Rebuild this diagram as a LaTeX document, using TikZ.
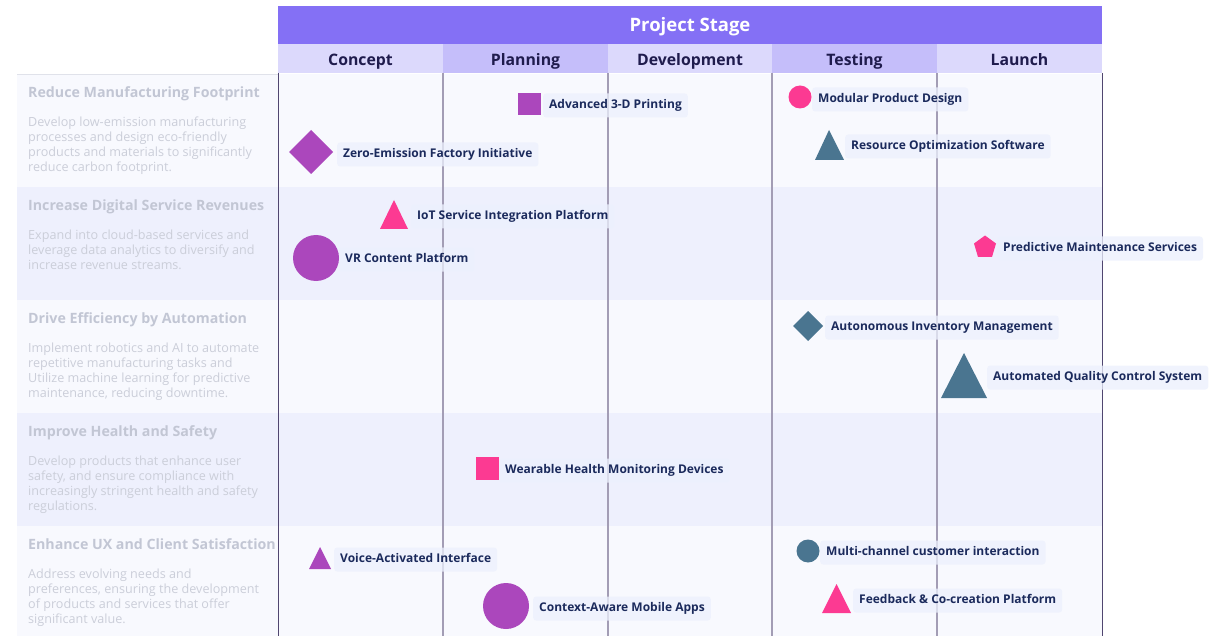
\documentclass[tikz,border=0pt]{standalone}
\usepackage{fontspec}
\setmainfont{Open Sans}
\usetikzlibrary{shapes.geometric}
\definecolor{headc}{RGB}{132,112,245}
\definecolor{sublight}{RGB}{220,217,252}
\definecolor{subdark}{RGB}{197,190,250}
\definecolor{rowlight}{RGB}{248,249,254}
\definecolor{rowdark}{RGB}{238,240,253}
\definecolor{lineinner}{RGB}{163,157,181}
\definecolor{lineouter}{RGB}{80,70,112}
\definecolor{cpurple}{RGB}{171,71,188}
\definecolor{cpink}{RGB}{252,58,146}
\definecolor{cblue}{RGB}{74,117,144}
\definecolor{labtext}{RGB}{27,42,92}
\definecolor{labbg}{RGB}{236,240,253}
\definecolor{navy}{RGB}{31,27,77}
\definecolor{rtitle}{RGB}{194,198,212}
\definecolor{rdesc}{RGB}{203,206,217}
\tikzset{
  itemlabel/.style={anchor=west,fill=labbg,fill opacity=0.75,text opacity=1,rounded corners=3pt,
    inner xsep=6pt,minimum height=24pt,text height=8.5pt,text depth=2.5pt,text=labtext,font=\fontsize{12}{14}\selectfont\bfseries},
  colhead/.style={text=navy,text height=11pt,text depth=3.5pt,inner sep=0pt,font=\fontsize{15.8}{18}\selectfont\bfseries},
  rowtitle/.style={anchor=west,text=rtitle,text height=10pt,text depth=3pt,font=\fontsize{14.2}{16}\selectfont\bfseries,inner sep=0pt},
  rowdesc/.style={anchor=north west,text=rdesc,font=\fontsize{12.6}{15}\selectfont,align=left,inner sep=0pt},
}
\begin{document}
\begin{tikzpicture}[x=1pt,y=-1pt]
\useasboundingbox (0,0) rectangle (1217,636);
\fill[white] (0,0) rectangle (1217,636);
% row backgrounds
\fill[rowlight] (17,74) rectangle (1102,187);
\fill[rowdark] (17,187) rectangle (1102,300);
\fill[rowlight] (17,300) rectangle (1102,413);
\fill[rowdark] (17,413) rectangle (1102,526);
\fill[rowlight] (17,526) rectangle (1102,636);
\draw[rtitle!50,line width=0.8pt] (17,74) -- (278,74);
% header
\fill[headc] (278,6) rectangle (1102,44);
\node[text=white,text height=12.5pt,text depth=4pt,inner sep=0pt,font=\fontsize{18.5}{20}\selectfont\bfseries] (ps) at (690,27.5) {Project Stage};
\fill[sublight] (278,44) rectangle (443,73);
\fill[subdark] (443,44) rectangle (608,73);
\fill[sublight] (608,44) rectangle (772,73);
\fill[subdark] (772,44) rectangle (937,73);
\fill[sublight] (937,44) rectangle (1102,73);
\node[colhead] (c1) at (360.5,61.5) {Concept};
\node[colhead] (c2) at (525.5,61.5) {Planning};
\node[colhead] (c3) at (690,61.5) {Development};
\node[colhead] (c4) at (854.5,61.5) {Testing};
\node[colhead] (c5) at (1019.5,61.5) {Launch};
% vertical lines
\foreach \x in {443,608,772,937} \draw[lineinner,line width=1.4pt] (\x,73) -- (\x,636);
\draw[lineouter,line width=1pt] (278,73) -- (278,636);
\draw[lineouter,line width=1pt] (1102,73) -- (1102,636);
% row labels
\node[rowtitle] (t1) at (28,94) {Reduce Manufacturing Footprint};
\node[rowdesc] (d1) at (28,117) {Develop low-emission manufacturing\\processes and design eco-friendly\\products and materials to significantly\\reduce carbon footprint.};
\node[rowtitle] (t2) at (28,207) {Increase Digital Service Revenues};
\node[rowdesc] (d2) at (28,230) {Expand into cloud-based services and\\leverage data analytics to diversify and\\increase revenue streams.};
\node[rowtitle] (t3) at (28,320) {Drive Efficiency by Automation};
\node[rowdesc] (d3) at (28,343) {Implement robotics and AI to automate\\repetitive manufacturing tasks and\\Utilize machine learning for predictive\\maintenance, reducing downtime.};
\node[rowtitle] (t4) at (28,433) {Improve Health and Safety};
\node[rowdesc] (d4) at (28,456) {Develop products that enhance user\\safety, and ensure compliance with\\increasingly stringent health and safety\\regulations.};
\node[rowtitle] (t5) at (28,546) {Enhance UX and Client Satisfaction};
\node[rowdesc] (d5) at (28,569) {Address evolving needs and\\preferences, ensuring the development\\of products and services that offer\\significant value.};
% items: labels
\node[itemlabel] (l1) at (543,105.5) {Advanced 3-D Printing};
\node[itemlabel] (l2) at (337,154.5) {Zero-Emission Factory Initiative};
\node[itemlabel] (l3) at (812,99.5) {Modular Product Design};
\node[itemlabel] (l4) at (845,146.5) {Resource Optimization Software};
\node[itemlabel] (l5) at (411,216.5) {IoT Service Integration Platform};
\node[itemlabel] (l6) at (339,259.5) {VR Content Platform};
\node[itemlabel] (l7) at (997,248.5) {Predictive Maintenance Services};
\node[itemlabel] (l8) at (825,327.5) {Autonomous Inventory Management};
\node[itemlabel] (l9) at (987,377.5) {Automated Quality Control System};
\node[itemlabel] (l10) at (499,470.5) {Wearable Health Monitoring Devices};
\node[itemlabel] (l11) at (334,559.5) {Voice-Activated Interface};
\node[itemlabel] (l12) at (533,608.5) {Context-Aware Mobile Apps};
\node[itemlabel] (l13) at (820,552.5) {Multi-channel customer interaction};
\node[itemlabel] (l14) at (853,600.5) {Feedback \& Co-creation Platform};
% items: shapes
\fill[cpurple] (518,93) rectangle (541,115);
\fill[cpurple] (311,130) -- (333,152) -- (311,174) -- (289,152) -- cycle;
\fill[cpink] (800,97) circle (11.5);
\fill[cblue] (829,130) -- (844,160) -- (815,160) -- cycle;
\fill[cpink] (394,200) -- (408,229) -- (380,229) -- cycle;
\fill[cpurple] (316,258) circle (23);
\fill[cpink] (985,235.5) -- (996,243.5) -- (992,257) -- (978,257) -- (974,243.5) -- cycle;
\fill[cblue] (808,311) -- (823,326) -- (808,341) -- (793,326) -- cycle;
\fill[cblue] (964,353) -- (987,398) -- (941,398) -- cycle;
\fill[cpink] (476,457) rectangle (499,480);
\fill[cpurple] (320,547) -- (331,569) -- (309,569) -- cycle;
\fill[cpurple] (506,606) circle (23);
\fill[cblue] (808,551) circle (11.5);
\fill[cpink] (836.5,584) -- (851,613) -- (822,613) -- cycle;
\end{tikzpicture}
\end{document}
